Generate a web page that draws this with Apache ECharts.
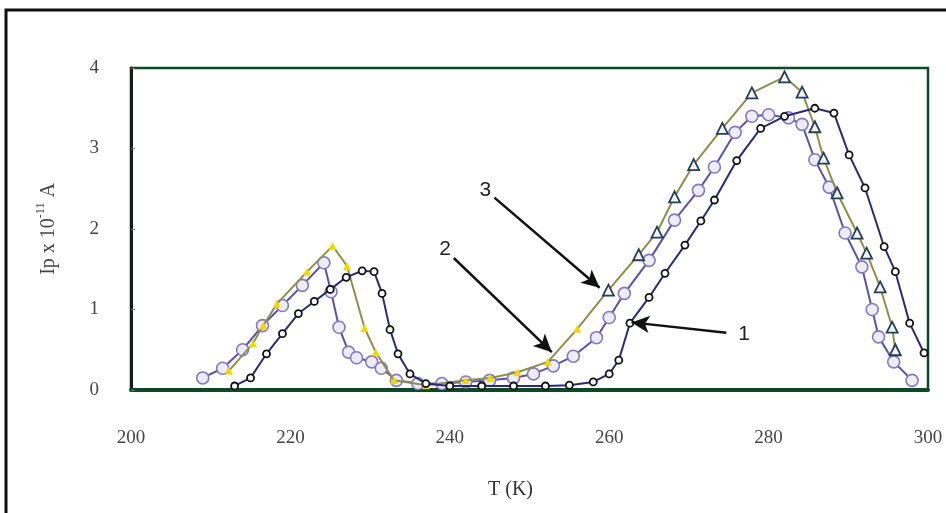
<!DOCTYPE html>
<html>
<head>
	<meta http-equiv="Content-Type" content="text/html; charset=utf-8"/>
	<title>Ip - T</title>
	<style>
		html, body {
			margin: 0;
			padding: 0;
			background: #ffffff;
		}
		#chart {
			width: 946px;
			height: 513px;
		}
	</style>
</head>
<body>
	<div id="chart"></div>

	<script type="text/javascript" src="https://cdn.jsdelivr.net/npm/echarts@6/dist/echarts.min.js"></script>
	<script>
		// axis ticks
		const tempTicks = [200, 220, 240, 260, 280, 300];
		const currentTicks = [0, 1, 2, 3, 4];

		// curve 1 (navy, small open markers)
		const temp1 = [213, 215, 217, 219, 221, 223, 225, 227, 229, 230.5, 231.5, 232.5, 233.5, 235, 237, 240, 244, 248, 252, 255, 258, 260, 261.2, 262.6, 265, 267, 269.5, 271.5, 273.2, 276, 279, 282, 285.8, 288.2, 290.1, 292.1, 294.5, 295.9, 297.7, 299.5];
		const current1 = [0.05, 0.15, 0.45, 0.7, 0.95, 1.1, 1.25, 1.4, 1.48, 1.47, 1.2, 0.75, 0.45, 0.2, 0.08, 0.05, 0.05, 0.05, 0.05, 0.06, 0.1, 0.2, 0.37, 0.83, 1.15, 1.45, 1.8, 2.1, 2.36, 2.85, 3.25, 3.4, 3.5, 3.44, 2.92, 2.51, 1.78, 1.47, 0.83, 0.46];

		// curve 2 (purple, open circles)
		const temp2 = [209, 211.5, 214, 216.5, 219, 221.5, 224.2, 225.1, 226.1, 227.3, 228.3, 230.2, 231.4, 233.3, 236, 239, 242, 245, 248, 250.5, 253, 255.5, 258.4, 260, 261.9, 265, 268.2, 271.2, 273.2, 275.8, 277.9, 280, 282.5, 284.2, 285.8, 287.6, 289.6, 291.7, 293, 293.8, 295.7, 298];
		const current2 = [0.15, 0.27, 0.5, 0.8, 1.05, 1.3, 1.58, 1.22, 0.78, 0.47, 0.4, 0.35, 0.27, 0.12, 0.08, 0.08, 0.1, 0.12, 0.15, 0.2, 0.3, 0.42, 0.65, 0.9, 1.2, 1.61, 2.11, 2.48, 2.77, 3.2, 3.4, 3.42, 3.38, 3.3, 2.86, 2.52, 1.95, 1.53, 1.0, 0.66, 0.35, 0.12];

		// curve 3 (olive, triangles; yellow triangles on the low temperature side)
		const temp3 = [212.3, 215.3, 216.6, 218.3, 222.1, 225.3, 227.1, 229.3, 230.7, 233, 237, 242, 245.1, 248.5, 252.3, 256, 259.9, 263.7, 266, 268.2, 270.6, 274.2, 277.9, 282, 284.2, 285.8, 286.9, 288.6, 291.1, 292.3, 294, 295.5, 295.9];
		const current3 = [0.24, 0.58, 0.8, 1.07, 1.47, 1.79, 1.54, 0.77, 0.47, 0.12, 0.06, 0.12, 0.15, 0.22, 0.35, 0.76, 1.24, 1.68, 1.96, 2.4, 2.8, 3.25, 3.69, 3.89, 3.7, 3.27, 2.88, 2.45, 1.95, 1.7, 1.28, 0.78, 0.5];
		const yellowBelow = 258;

		// arrows with curve numbers (data coordinates)
		const arrowNames = ['1', '2', '3'];
		const arrowFrom = [[274.7, 0.71], [240.5, 1.64], [245.6, 2.39]];
		const arrowTo = [[262.8, 0.84], [252.8, 0.47], [258.8, 1.27]];

		function pairs(xs, ys){
			return xs.map((x, i) => [x, ys[i]]);
		}

		const serif = '"Liberation Serif", "DejaVu Serif", serif';

		const curve3Data = temp3.map((t, i) => {
			if(t < yellowBelow){
				return {
					value: [t, current3[i]],
					symbolSize: 8,
					itemStyle: {color: '#f3d700', borderColor: '#f3d700', borderWidth: 0}
				};
			}
			return {value: [t, current3[i]]};
		});

		const arrowData = arrowNames.map((name, i) => [
			{name: name, coord: arrowFrom[i]},
			{coord: arrowTo[i]}
		]);

		let option = {
			backgroundColor: '#ffffff',
			animation: false,
			graphic: [{
				type: 'rect',
				shape: {x: 6, y: 10, width: 1000, height: 600},
				style: {fill: 'none', stroke: '#111111', lineWidth: 3},
				silent: true
			}],
			grid: {
				left: 131,
				right: 18,
				top: 68,
				bottom: 123,
				show: true,
				borderColor: '#0c4a26',
				borderWidth: 2.5,
				backgroundColor: 'transparent'
			},
			xAxis: {
				type: 'value',
				min: tempTicks[0],
				max: tempTicks[tempTicks.length - 1],
				interval: tempTicks[1] - tempTicks[0],
				name: 'T (K)',
				nameLocation: 'middle',
				nameGap: 90,
				nameTextStyle: {fontFamily: serif, fontSize: 20, color: '#333', padding: [0, 38, 0, 0]},
				axisLine: {show: true, lineStyle: {color: '#0c4a26', width: 4}},
				axisTick: {show: false},
				splitLine: {show: false},
				axisLabel: {fontFamily: serif, fontSize: 19, color: '#444', margin: 39}
			},
			yAxis: {
				type: 'value',
				min: currentTicks[0],
				max: currentTicks[currentTicks.length - 1],
				interval: currentTicks[1] - currentTicks[0],
				name: 'Ip x 10{sup|-11} A',
				nameLocation: 'middle',
				nameGap: 68,
				nameTextStyle: {
					fontFamily: serif, fontSize: 20, color: '#444',
					rich: {
						sup: {fontFamily: serif, fontSize: 12, color: '#444', padding: [0, 0, 16, 0]}
					}
				},
				axisLine: {show: true, lineStyle: {color: '#1a1a1a', width: 3}},
				axisTick: {show: true, length: 4, inside: true, lineStyle: {color: '#777', width: 1}},
				splitLine: {show: false},
				axisLabel: {fontFamily: serif, fontSize: 19, color: '#444', margin: 32}
			},
			series: [
				{
					name: '1',
					type: 'line',
					data: pairs(temp1, current1),
					symbol: 'circle',
					symbolSize: 7,
					lineStyle: {color: '#272b78', width: 2},
					itemStyle: {color: '#ffffff', borderColor: '#111111', borderWidth: 1.8},
					z: 4,
					markLine: {
						silent: true,
						symbol: ['none', 'arrow'],
						symbolSize: [13, 18],
						lineStyle: {color: '#111111', width: 2.5, type: 'solid'},
						label: {
							show: true,
							position: 'start',
							distance: 12,
							formatter: '{b}',
							fontFamily: '"Liberation Sans", Arial, sans-serif',
							fontSize: 21,
							color: '#222'
						},
						emphasis: {disabled: true},
						data: arrowData
					}
				},
				{
					name: '2',
					type: 'line',
					data: pairs(temp2, current2),
					symbol: 'circle',
					symbolSize: 12,
					lineStyle: {color: '#5a52a6', width: 2},
					itemStyle: {color: '#efecf9', borderColor: '#8378c2', borderWidth: 1.6},
					z: 2
				},
				{
					name: '3',
					type: 'line',
					data: curve3Data,
					symbol: 'triangle',
					symbolSize: 11,
					lineStyle: {color: '#8f8f4c', width: 2},
					itemStyle: {color: '#f4f4f6', borderColor: '#22405a', borderWidth: 1.8},
					z: 3
				}
			]
		};

		let chart = echarts.init(document.getElementById('chart'), null, {renderer: 'canvas'});
		chart.setOption(option);
	</script>
</body>
</html>
